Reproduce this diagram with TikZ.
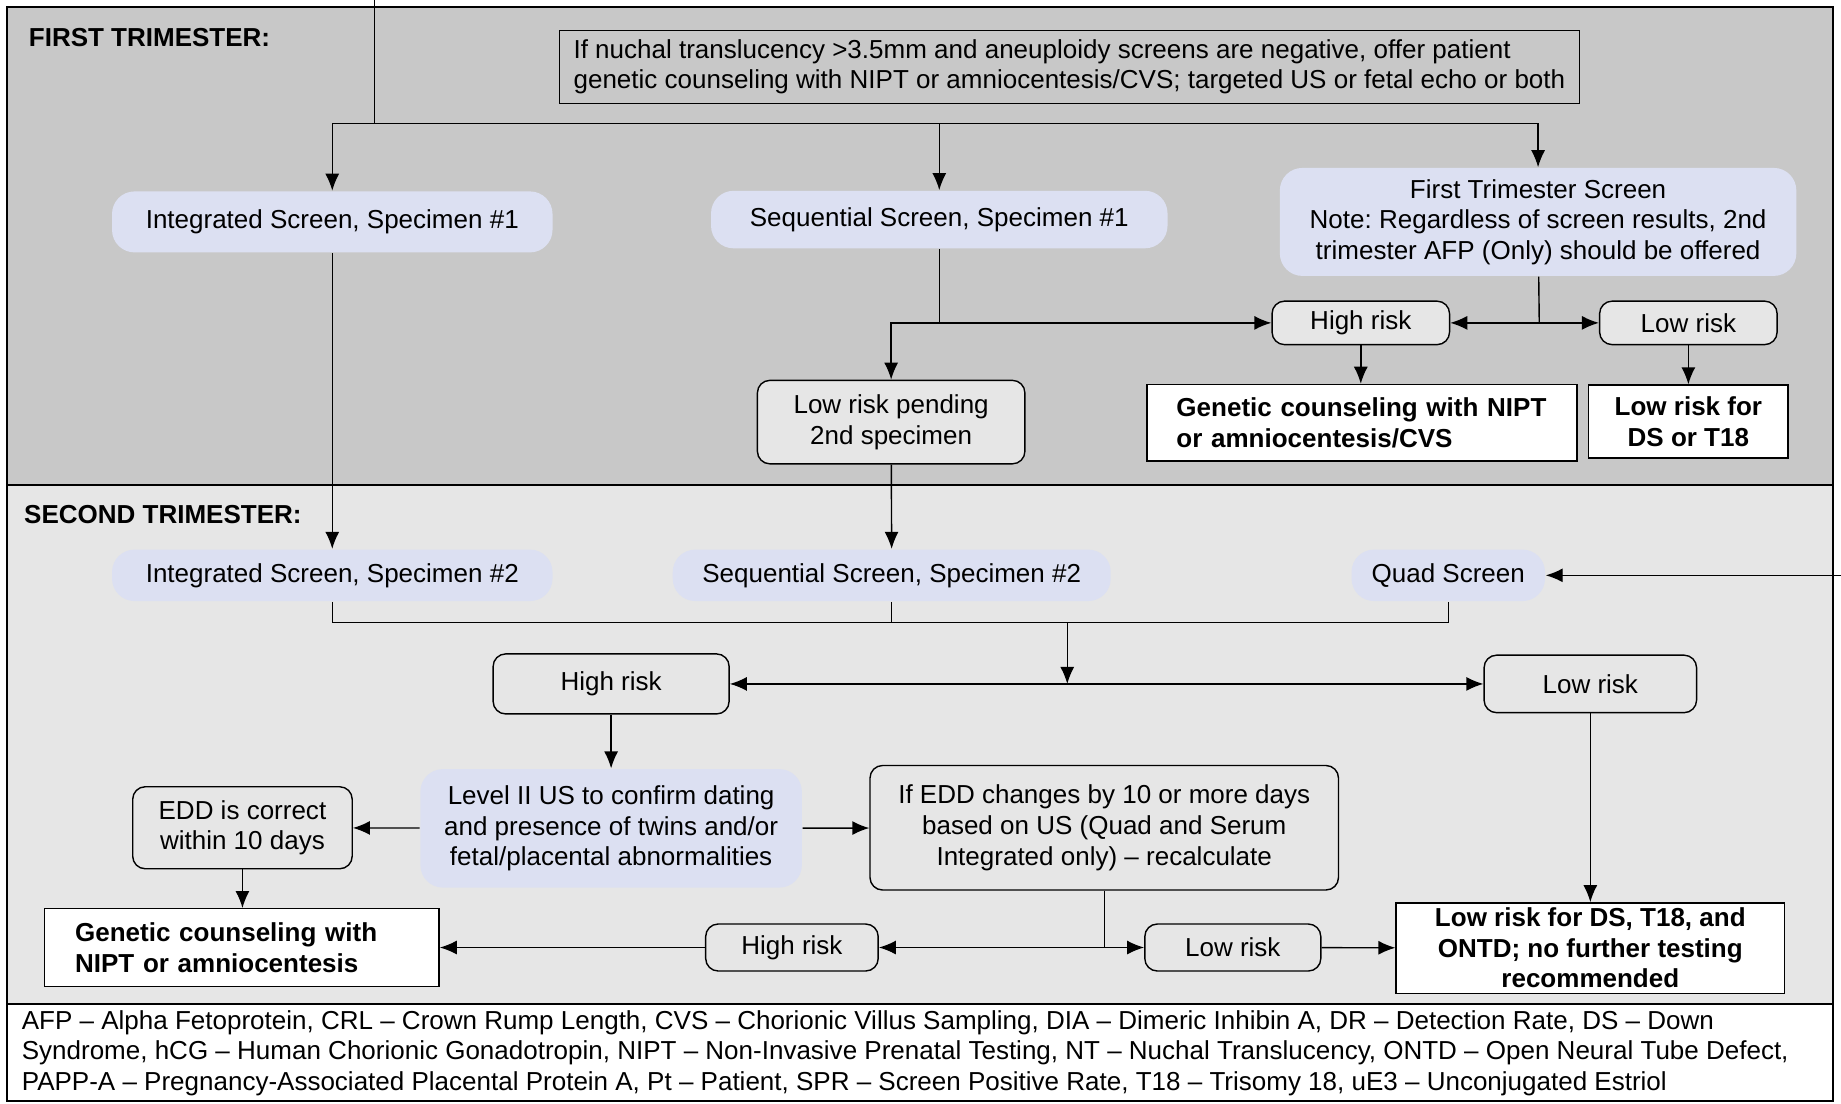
\documentclass[tikz,border=0pt]{standalone}
\usepackage{fontspec}
\setmainfont{Liberation Sans}
\usepackage{tikz}
\usetikzlibrary{arrows.meta}
\definecolor{lav}{RGB}{220,224,242}
\definecolor{bandA}{RGB}{200,200,200}
\definecolor{bandB}{RGB}{230,230,230}
\definecolor{riskgray}{RGB}{230,230,230}

\begin{document}
\fontsize{14.8}{17.4}\selectfont\frenchspacing
\begin{tikzpicture}[x=0.23484mm, y=-0.23484mm, line width=0.8pt,
  >={Latex[length=3.4mm,width=2.8mm]},
  lavbox/.style={fill=lav, rounded corners=4.5mm, align=center, inner sep=0pt},
  riskbox/.style={draw, fill=riskgray, rounded corners=2.5mm, align=center, inner sep=0pt},
  outbox/.style={draw, fill=white, font=\bfseries, inner sep=0pt}]
\useasboundingbox (0,0) rectangle (1568,940);
\draw[fill=bandA, line width=1.1pt] (6,6) rectangle (1561,413);
\draw[fill=bandB, line width=1.1pt] (6,413) rectangle (1561,855);
\draw[fill=white, line width=1.1pt] (6,855) rectangle (1561,938);

\node[anchor=west, font=\bfseries, inner sep=0pt] (firsthd) at (24,32) {FIRST TRIMESTER:};
\node[anchor=west, font=\bfseries, inner sep=0pt] (secondhd) at (20,438) {SECOND TRIMESTER:};

\node[draw, align=left, anchor=west, inner xsep=0.28cm, minimum height=1.46cm] (note) at (476,57)
  {If nuchal translucency >3.5mm and aneuploidy screens are negative, offer patient\\genetic counseling with NIPT or amniocentesis/CVS; targeted US or fetal echo or both};

\node[lavbox, minimum width=8.81cm, minimum height=1.22cm] (intA) at (283,189) {Integrated Screen, Specimen \#1};
\node[lavbox, minimum width=9.13cm, minimum height=1.15cm] (seqA) at (800,187) {Sequential Screen, Specimen \#1};
\node[lavbox, minimum width=10.33cm, minimum height=2.16cm] (fts) at (1310,189)
  {First Trimester Screen\\Note: Regardless of screen results, 2nd\\trimester AFP (Only) should be offered};
\node[riskbox, minimum width=3.55cm, minimum height=0.87cm] (hiA) at (1159,275) {High risk};
\node[riskbox, minimum width=3.55cm, minimum height=0.87cm] (loA) at (1438,275) {Low risk};
\node[outbox, align=left, text width=7.42cm, inner xsep=0.59cm, minimum height=1.53cm] (gcA) at (1160,360)
  {Genetic counseling with NIPT\\or amniocentesis/CVS};
\node[outbox, align=center, minimum width=3.99cm, minimum height=1.46cm] (lrA) at (1438,359) {Low risk for\\DS or T18};
\node[riskbox, minimum width=5.35cm, minimum height=1.67cm] (pend) at (759,359.5) {Low risk pending\\2nd specimen};

\node[lavbox, minimum width=8.81cm, minimum height=1.03cm] (intB) at (283,490) {Integrated Screen, Specimen \#2};
\node[lavbox, minimum width=8.76cm, minimum height=1.03cm] (seqB) at (759.5,490) {Sequential Screen, Specimen \#2};
\node[lavbox, minimum width=3.87cm, minimum height=1.03cm] (quad) at (1233.5,490) {Quad Screen};
\node[riskbox, minimum width=4.72cm, minimum height=1.2cm] (hiB) at (520.5,582.5) {High risk};
\node[riskbox, minimum width=4.25cm, minimum height=1.15cm] (loB) at (1354.5,582.5) {Low risk};
\node[lavbox, minimum width=7.63cm, minimum height=2.37cm] (lvl) at (520.5,705.5)
  {Level II US to confirm dating\\and presence of twins and/or\\fetal/placental abnormalities};
\node[riskbox, minimum width=4.39cm, minimum height=1.64cm] (edd) at (206.5,705) {EDD is correct\\within 10 days};
\node[outbox, align=left, text width=6.67cm, inner xsep=0.61cm, minimum height=1.55cm] (gcB) at (206,807)
  {Genetic counseling with\\NIPT or amniocentesis};
\node[riskbox, minimum width=9.37cm, minimum height=2.49cm] (chg) at (940.5,705)
  {If EDD changes by 10 or more days\\based on US (Quad and Serum\\Integrated only) -- recalculate};
\node[riskbox, minimum width=3.45cm, minimum height=0.94cm] (hiC) at (674.5,807) {High risk};
\node[riskbox, minimum width=3.52cm, minimum height=0.94cm] (loC) at (1050,807) {Low risk};
\node[outbox, align=center, minimum width=7.77cm, minimum height=1.81cm] (fin) at (1354.5,807.5)
  {Low risk for DS, T18, and\\ONTD; no further testing\\recommended};

\node[anchor=west, align=left, inner sep=0pt] (abbr) at (18,897)
  {AFP -- Alpha Fetoprotein, CRL -- Crown Rump Length, CVS -- Chorionic Villus Sampling, DIA -- Dimeric Inhibin A, DR -- Detection Rate, DS -- Down\\
   Syndrome, hCG -- Human Chorionic Gonadotropin, NIPT -- Non-Invasive Prenatal Testing, NT -- Nuchal Translucency, ONTD -- Open Neural Tube Defect,\\
   PAPP-A -- Pregnancy-Associated Placental Protein A, Pt -- Patient, SPR -- Screen Positive Rate, T18 -- Trisomy 18, uE3 -- Unconjugated Estriol};

\coordinate (top) at (319,0);
\coordinate (split) at (319,105);
\coordinate (sj) at (800,275);
\coordinate (fj) at (1311,275);
\coordinate (qin) at (1568,490);
\coordinate (jn) at (909,530);
\coordinate (mj) at (909,582.5);
\coordinate (cj) at (940.5,807);

\draw (top) -- (split);
\draw [->] (split) -| (intA);
\draw [->] (split) -| (seqA);
\draw [->] (split) -| (fts);
\draw [->] (intA) -- (intB);
\draw (seqA) -- (sj);
\draw [->] (sj) -- (hiA);
\draw [->] (sj) -| (pend);
\draw (fts) -- (fj);
\draw [->] (fj) -- (hiA);
\draw [->] (fj) -- (loA);
\draw [->] (hiA) -- (hiA |- gcA.north);
\draw [->] (loA) -- (lrA);
\draw [->] (pend) -- (seqB);
\draw [->] (qin) -- (quad);
\draw (intB) |- (jn);
\draw (quad) |- (jn);
\draw (seqB) -- (seqB |- jn);
\draw [->] (jn) -- (mj);
\draw [->] (mj) -- (hiB);
\draw [->] (mj) -- (loB);
\draw [->] (hiB) -- (lvl);
\draw [->] (lvl) -- (edd);
\draw [->] (lvl) -- (chg);
\draw [->] (edd) -- (edd |- gcB.north);
\draw (chg) -- (cj);
\draw [->] (cj) -- (hiC);
\draw [->] (cj) -- (loC);
\draw [->] (hiC) -- (gcB);
\draw [->] (loC) -- (fin);
\draw [->] (loB) -- (loB |- fin.north);
\end{tikzpicture}
\end{document}
